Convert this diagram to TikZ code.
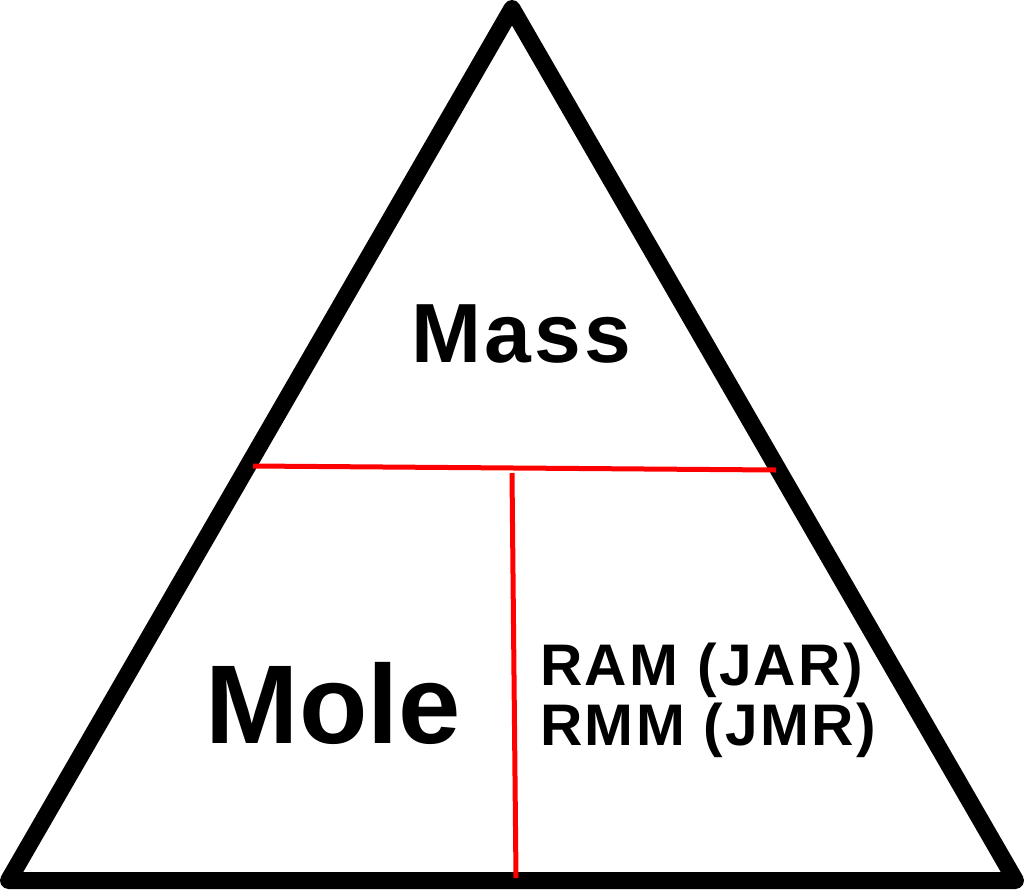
\documentclass[tikz,border=0pt]{standalone}
\usepackage{fontspec}
\setmainfont{Liberation Sans}
\tikzset{
  frame/.style={draw=black, line width=12.75pt, line join=round},
  divider/.style={draw=red, line width=3.75pt},
  label/.style={inner sep=0pt, font=\bfseries},
}
\begin{document}
\begin{tikzpicture}[x=0.75pt, y=-0.75pt]
\useasboundingbox (0,0) rectangle (1024,889);
\coordinate (apex) at (512,8.5);
\coordinate (bl) at (8.5,880.5);
\coordinate (br) at (1015.5,880.5);
\draw[frame] (apex) -- (bl) -- (br) -- cycle;
\coordinate (hl) at (253,466);
\coordinate (hr) at (776,470);
\coordinate (vt) at (512,473);
\coordinate (vb) at (516,878);
\draw[divider] (hl) -- (hr);
\draw[divider] (vt) -- (vb);
\node[label, anchor=base, font=\bfseries\fontsize{63}{70}\selectfont\addfontfeatures{LetterSpace=4}] (mass) at (521.5,362) {Mass};
\node[label, anchor=base, font=\bfseries\fontsize{84}{90}\selectfont] (mole) at (333.5,743) {Mole};
\node[label, anchor=base west, font=\bfseries\fontsize{44}{45}\selectfont\addfontfeatures{LetterSpace=4}] (ram) at (540,685) {RAM (JAR)};
\node[label, anchor=base west, font=\bfseries\fontsize{44}{45}\selectfont\addfontfeatures{LetterSpace=4}] (rmm) at (540,745) {RMM (JMR)};
\end{tikzpicture}
\end{document}
